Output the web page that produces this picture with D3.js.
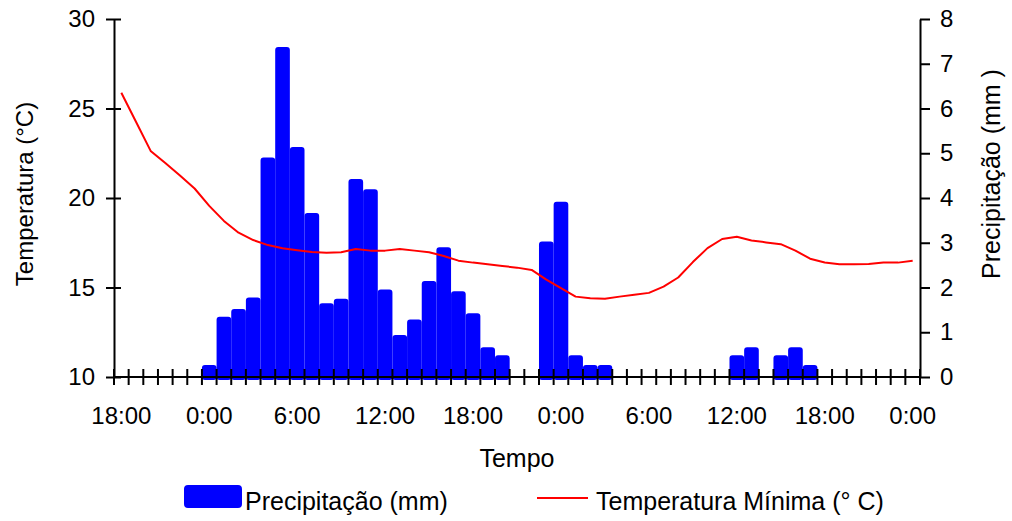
<!DOCTYPE html>
<html>
<head>
<meta charset="utf-8">
<script src="https://cdn.jsdelivr.net/npm/d3@7"></script>
<style>
  html, body { margin: 0; padding: 0; background: #fff; }
  svg text { font-family: Arial, "Liberation Sans", sans-serif; fill: #000; }
</style>
</head>
<body>
<div class="chartContainer"></div>
<script>
// hourly categories, 18:00 of day 1 to 0:00 of day 3
const hours = [
  "18:00","19:00","20:00","21:00","22:00","23:00",
  "0:00","1:00","2:00","3:00","4:00","5:00",
  "6:00","7:00","8:00","9:00","10:00","11:00",
  "12:00","13:00","14:00","15:00","16:00","17:00",
  "18:00 ","19:00 ","20:00 ","21:00 ","22:00 ","23:00 ",
  "0:00 ","1:00 ","2:00 ","3:00 ","4:00 ","5:00 ",
  "6:00 ","7:00 ","8:00 ","9:00 ","10:00 ","11:00 ",
  "12:00 ","13:00 ","14:00 ","15:00 ","16:00 ","17:00 ",
  "18:00  ","19:00  ","20:00  ","21:00  ","22:00  ","23:00  ",
  "0:00  "
];

const tickLabels = ["18:00","0:00","6:00","12:00","18:00 ","0:00 ","6:00 ","12:00 ","18:00  ","0:00  "];

// precipitation (mm)
const precip = [
  0, 0, 0, 0, 0, 0,
  0.2, 1.28, 1.45, 1.71, 4.84, 7.31,
  5.07, 3.6, 1.58, 1.68, 4.36, 4.13,
  1.89, 0.87, 1.22, 2.08, 2.83, 1.85,
  1.36, 0.6, 0.42, 0, 0, 2.96,
  3.85, 0.42, 0.2, 0.2, 0, 0,
  0, 0, 0, 0, 0, 0,
  0.42, 0.6, 0, 0.42, 0.6, 0.2,
  0, 0, 0, 0, 0, 0,
  0
];

// minimum temperature (°C)
const tempMin = [
  25.88, 24.26, 22.63, 21.95, 21.26, 20.53,
  19.56, 18.72, 18.06, 17.65, 17.37, 17.19,
  17.08, 16.98, 16.94, 16.97, 17.15, 17.06,
  17.06, 17.15, 17.06, 16.97, 16.76, 16.50,
  16.39, 16.30, 16.20, 16.11, 15.98, 15.44,
  14.96, 14.49, 14.40, 14.37, 14.49, 14.59,
  14.70, 15.05, 15.56, 16.42, 17.20, 17.71,
  17.83, 17.63, 17.52, 17.42, 17.06, 16.61,
  16.40, 16.30, 16.30, 16.31, 16.39, 16.39,
  16.49
];

const tempTicks = [10, 15, 20, 25, 30];
const precipTicks = [0, 1, 2, 3, 4, 5, 6, 7, 8];

let width = 1012;
let height = 521;
let margin = ({top: 19, right: 92, bottom: 144, left: 114});
const fontSize = 24;
const titleSize = 25;

let x = d3.scaleBand()
  .domain(hours)
  .range([margin.left, width - margin.right])
  .padding(0);
const bw = x.bandwidth();

let yT = d3.scaleLinear()
  .domain([10, 30])
  .range([height - margin.bottom, margin.top]);

let yP = d3.scaleLinear()
  .domain([0, 8])
  .range([height - margin.bottom, margin.top]);

const svg = d3.select('.chartContainer').append("svg")
  .attr("width", width)
  .attr("height", height)
  .attr("viewBox", [0, 0, width, height]);

const rows = hours.map((h, i) => ({h: h, p: precip[i], t: tempMin[i]}));

// bars
svg.append("g")
  .selectAll("rect")
  .data(rows.filter(d => d.p > 0))
  .join("rect")
  .attr("x", d => x(d.h) + 3)
  .attr("width", bw - 6)
  .attr("y", d => yP(d.p))
  .attr("height", d => yP(0) - yP(d.p))
  .attr("fill", "#0000ff")
  .attr("stroke", "#0000ff")
  .attr("stroke-width", 6)
  .attr("stroke-linejoin", "round");

// temperature line
let line = d3.line()
  .x(d => x(d.h) + bw / 2)
  .y(d => yT(d.t));

svg.append("path")
  .datum(rows)
  .attr("fill", "none")
  .attr("stroke", "#ff0000")
  .attr("stroke-width", 2)
  .attr("stroke-linejoin", "round")
  .attr("d", line);

// x axis: line, boundary ticks, labels
const x0 = height - margin.bottom;
svg.append("line")
  .attr("x1", margin.left).attr("x2", width - margin.right)
  .attr("y1", x0).attr("y2", x0)
  .attr("stroke", "#000").attr("stroke-width", 2);

const bounds = hours.map(h => x(h)).concat([x(hours[hours.length - 1]) + bw]);
svg.append("g")
  .selectAll("line")
  .data(bounds)
  .join("line")
  .attr("x1", d => d).attr("x2", d => d)
  .attr("y1", x0 - 8).attr("y2", x0 + 8)
  .attr("stroke", "#000").attr("stroke-width", 2);

svg.append("g")
  .attr("transform", `translate(0,${x0})`)
  .call(d3.axisBottom(x).tickValues(tickLabels).tickSize(0).tickPadding(30).tickFormat(d => d.trim()))
  .call(g => g.select(".domain").remove())
  .call(g => g.selectAll("text").style("font-size", fontSize + "px"));

// left axis (temperature)
svg.append("g")
  .attr("transform", `translate(${margin.left},0)`)
  .call(d3.axisLeft(yT).tickValues(tempTicks).tickSize(8).tickPadding(11).tickSizeOuter(0))
  .call(g => g.select(".domain").attr("stroke-width", 2))
  .call(g => g.selectAll(".tick line").attr("x1", 7).attr("stroke-width", 2))
  .call(g => g.selectAll("text").style("font-size", fontSize + "px"));

// right axis (precipitation)
svg.append("g")
  .attr("transform", `translate(${width - margin.right},0)`)
  .call(d3.axisRight(yP).tickValues(precipTicks).tickSize(10).tickPadding(10).tickSizeOuter(0))
  .call(g => g.select(".domain").attr("stroke-width", 2))
  .call(g => g.selectAll(".tick line").attr("stroke-width", 2))
  .call(g => g.selectAll("text").style("font-size", fontSize + "px"));

// axis titles
svg.append("text")
  .attr("transform", `translate(33,194) rotate(-90)`)
  .attr("text-anchor", "middle")
  .style("font-size", fontSize + "px")
  .text("Temperatura (°C)");

svg.append("text")
  .attr("transform", `translate(1000,174) rotate(-90)`)
  .attr("text-anchor", "middle")
  .style("font-size", titleSize + "px")
  .text("Precipitação (mm )");

svg.append("text")
  .attr("x", (margin.left + width - margin.right) / 2)
  .attr("y", 467)
  .attr("text-anchor", "middle")
  .style("font-size", titleSize + "px")
  .text("Tempo");

// legend
const legend = svg.append("g");
legend.append("rect")
  .attr("x", 185).attr("y", 486).attr("width", 56).attr("height", 21)
  .attr("fill", "#0000ff").attr("stroke", "#0000ff").attr("stroke-width", 2)
  .attr("rx", 3);
legend.append("text")
  .attr("x", 245).attr("y", 510)
  .style("font-size", titleSize + "px")
  .text("Precipitação (mm)");
legend.append("line")
  .attr("x1", 537).attr("x2", 588).attr("y1", 498).attr("y2", 498)
  .attr("stroke", "#ff0000").attr("stroke-width", 2);
legend.append("text")
  .attr("x", 596).attr("y", 510)
  .style("font-size", titleSize + "px")
  .text("Temperatura Mínima (° C)");
</script>
</body>
</html>
